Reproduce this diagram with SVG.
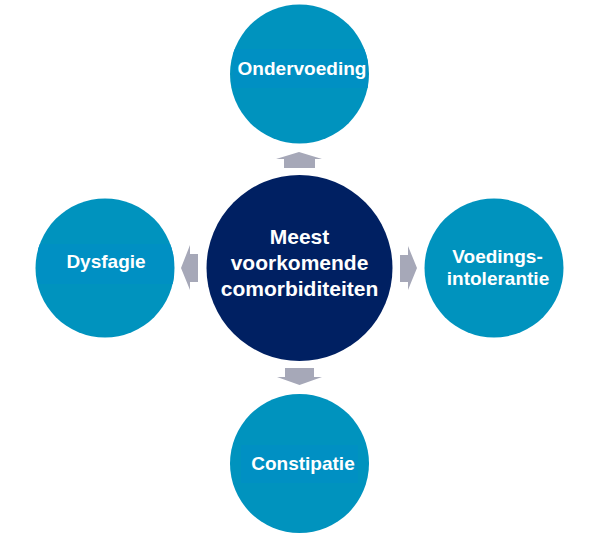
<svg xmlns="http://www.w3.org/2000/svg" width="589" height="545" viewBox="0 0 589 545">
<style>
.outer{fill:#0093BE}
.box{fill:#0090C3}
.center{fill:#002062}
.arrow{fill:#A6A8B8}
text{font-family:"Liberation Sans",Arial,sans-serif;font-weight:bold;fill:#FFFFFF;text-anchor:middle}
.t19{font-size:19px}
.t21{font-size:21px}
</style>
<defs>
<clipPath id="cTop"><circle cx="299.5" cy="74" r="69.5"/></clipPath>
<clipPath id="cLeft"><circle cx="105" cy="268" r="69.5"/></clipPath>
<clipPath id="cBottom"><circle cx="299.5" cy="463.5" r="69.5"/></clipPath>
</defs>
<rect width="589" height="545" fill="#FFFFFF"/>
<g id="connectors">
<polygon class="arrow" points="299,152 322,159 315,159 315,168 284,168 284,159 276,159"/>
<polygon class="arrow" points="181,268 190,245 190,254 198,254 198,282 190,282 190,290"/>
<polygon class="arrow" points="417,268 408,290 408,282 400,282 400,255 408,255 408,246"/>
<polygon class="arrow" points="299.5,385 277,377 285,377 285,368 314,368 314,377 322,377"/>
</g>
<g id="center">
<circle class="center" cx="299.5" cy="268" r="93"/>
<text class="t21" x="299.5" y="244">Meest</text>
<text class="t21" x="299.5" y="270">voorkomende</text>
<text class="t21" x="299.5" y="296">comorbiditeiten</text>
</g>
<g id="ondervoeding">
<circle class="outer" cx="299.5" cy="74" r="69.5"/>
<rect class="box" x="233" y="49" width="135" height="39" clip-path="url(#cTop)"/>
<text class="t19" x="302" y="75">Ondervoeding</text>
</g>
<g id="dysfagie">
<circle class="outer" cx="105" cy="268" r="69.5"/>
<rect class="box" x="38" y="244" width="136" height="40" clip-path="url(#cLeft)"/>
<text class="t19" x="106" y="268">Dysfagie</text>
</g>
<g id="voedingsintolerantie">
<circle class="outer" cx="494" cy="268" r="69.5"/>
<text class="t19" x="497.5" y="263">Voedings-</text>
<text class="t19" x="498" y="285">intolerantie</text>
</g>
<g id="constipatie">
<circle class="outer" cx="299.5" cy="463.5" r="69.5"/>
<rect class="box" x="241" y="445" width="117" height="38" clip-path="url(#cBottom)"/>
<text class="t19" x="303" y="470">Constipatie</text>
</g>
</svg>
